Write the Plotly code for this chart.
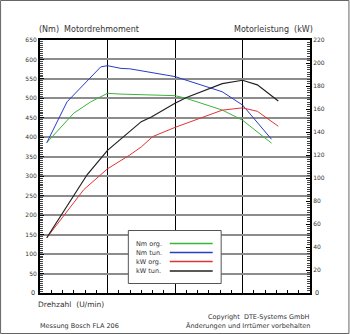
import plotly.graph_objects as go

# ---- data ----
rpm_nm_tun = [1100, 1400, 1900, 2000, 2200, 2330, 3000, 3700, 4000, 4430]
nm_tun = [386, 491, 581, 584, 577, 576, 556, 517, 483, 395]

rpm_nm_org = [1100, 1500, 1750, 2000, 2200, 3000, 3150, 3700, 4000, 4430]
nm_org = [386, 462, 491, 513, 511, 507, 501, 470, 444, 385]

rpm_kw_tun = [1100, 1700, 2000, 2500, 2650, 3000, 3170, 3700, 4000, 4220, 4530]
kw_tun = [48, 103, 124, 149, 153, 165, 170, 182, 185, 181, 167]

rpm_kw_org = [1100, 1650, 2000, 2330, 2500, 2670, 3000, 3700, 4000, 4220, 4530]
kw_org = [48, 90, 108, 120, 127, 136, 144, 159, 161, 158, 145]

legend_names = ["Nm org.", "Nm tun.", "kW org.", "kW tun."]
colors = ["#3cb43c", "#2a3cc8", "#e03434", "#222222"]

nm_ticks = list(range(0, 651, 50))
kw_ticks = list(range(0, 221, 20))

FONT = "DejaVu Sans"
TXT = "#333333"

fig = go.Figure()
fig.add_trace(go.Scatter(x=rpm_nm_org, y=nm_org, mode="lines", line=dict(color=colors[0], width=1), yaxis="y"))
fig.add_trace(go.Scatter(x=rpm_nm_tun, y=nm_tun, mode="lines", line=dict(color=colors[1], width=1), yaxis="y"))
fig.add_trace(go.Scatter(x=rpm_kw_org, y=kw_org, mode="lines", line=dict(color=colors[2], width=1), yaxis="y2"))
fig.add_trace(go.Scatter(x=rpm_kw_tun, y=kw_tun, mode="lines", line=dict(color=colors[3], width=1.2), yaxis="y2"))

fig.update_layout(
    width=350, height=334,
    margin=dict(l=40, r=39.5, t=40, b=41),
    paper_bgcolor="white", plot_bgcolor="white",
    showlegend=False,
    font=dict(family=FONT, size=6, color=TXT),
    xaxis=dict(
        range=[1000, 5000], dtick=1000, tick0=1000,
        showgrid=True, gridcolor="#000000", gridwidth=1,
        showline=True, linecolor="black", linewidth=2, mirror=True,
        showticklabels=False, ticks="inside", ticklen=3, tickcolor="black",
        minor=dict(dtick=1000/6, ticks="inside", ticklen=3, tickcolor="black", showgrid=False),
        zeroline=False,
    ),
    yaxis=dict(
        range=[0, 650], tickvals=nm_ticks[1:], ticktext=[str(v) for v in nm_ticks[1:]],
        showgrid=True, gridcolor="#8c8c8c", gridwidth=1.5,
        showline=True, linecolor="black", linewidth=2,
        ticks="inside", ticklen=4, tickcolor="black",
        minor=dict(dtick=5, ticks="inside", ticklen=3, tickcolor="#444444", showgrid=False),
        tickfont=dict(size=6, color=TXT), zeroline=False,
    ),
    yaxis2=dict(
        range=[0, 220], tickvals=kw_ticks[1:], ticktext=[str(v) for v in kw_ticks[1:]],
        overlaying="y", side="right", showgrid=False,
        showline=True, linecolor="black", linewidth=2,
        ticks="inside", ticklen=4, tickcolor="black",
        minor=dict(dtick=2, ticks="inside", ticklen=3, tickcolor="#444444", showgrid=False),
        tickfont=dict(size=6, color=TXT), zeroline=False,
    ),
)

def px_x(x):
    return (x - 40) / 270.5

def px_y(y):
    return (293 - y) / 253

shapes = []
# outer frame
shapes.append(dict(type="rect", xref="paper", yref="paper",
                   x0=px_x(0.5), x1=px_x(349.5), y0=px_y(333.5), y1=px_y(0.5),
                   line=dict(color="#666666", width=1), layer="below"))
# legend box
shapes.append(dict(type="rect", xref="paper", yref="paper",
                   x0=px_x(128.5), x1=px_x(221.5), y0=px_y(283.5), y1=px_y(230.5),
                   line=dict(color="#555555", width=1), fillcolor="white", layer="above"))
rows = [243.5, 252.5, 261.5, 271]
annotations = []
for name, col, ry in zip(legend_names, colors, rows):
    shapes.append(dict(type="line", xref="paper", yref="paper",
                       x0=px_x(170), x1=px_x(213), y0=px_y(ry), y1=px_y(ry),
                       line=dict(color=col, width=1.5), layer="above"))
    annotations.append(dict(text=name, xref="paper", yref="paper", x=px_x(134), y=px_y(ry),
                            xanchor="left", yanchor="middle", showarrow=False,
                            font=dict(size=6.5, color=TXT, family=FONT)))

def note(text, x, y, anchor, size, color=TXT):
    annotations.append(dict(text=text, xref="paper", yref="paper", x=px_x(x), y=px_y(y),
                            xanchor=anchor, yanchor="middle", showarrow=False,
                            font=dict(size=size, color=color, family=FONT)))

# zero labels of both value axes
note(str(nm_ticks[0]), 37, 292.5, "right", 6.5)
note(str(kw_ticks[0]), 313.5, 292.5, "left", 6.5)

note("(Nm)\u00a0 Motordrehmoment", 37, 29, "left", 8)
note("Motorleistung\u00a0 (kW)", 316, 29, "right", 8)
note("Drehzahl\u00a0 (U/min)", 36, 304.5, "left", 7.5)
note("Copyright\u00a0 DTE-Systems GmbH", 313, 317, "right", 6.5)
note("Änderungen und Irrtümer vorbehalten", 313, 325.5, "right", 6.5)
note("Messung Bosch FLA 206", 38, 325.5, "left", 6.5)

fig.update_layout(shapes=shapes, annotations=annotations)
fig.write_html("out.html")
